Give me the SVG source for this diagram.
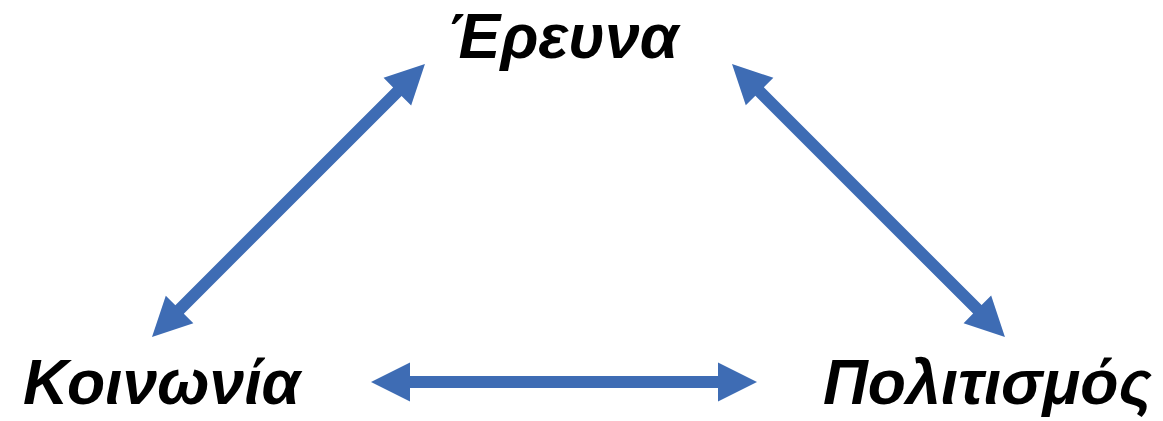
<svg xmlns="http://www.w3.org/2000/svg" xmlns:xlink="http://www.w3.org/1999/xlink" width="1163" height="421" viewBox="0 0 1163 421">
  <style>
    .lbl { font-family: "Liberation Sans", Arial, sans-serif; font-weight: bold; font-style: italic; font-size: 62.5px; fill: #000000; }
    .arr { fill: #3E6CB4; }
  </style>
  <defs>
    <path id="dblArrow" class="arr" d="M0,0 L39,-19.5 L39,-6 L347,-6 L347,-19.5 L386,0 L347,19.5 L347,6 L39,6 L39,19.5 Z"/>
  </defs>
  <rect width="1163" height="421" fill="#ffffff"/>
  <g id="connectors">
    <use xlink:href="#dblArrow" href="#dblArrow" transform="translate(371,382)"/>
    <use xlink:href="#dblArrow" href="#dblArrow" transform="translate(152,337) rotate(-45)"/>
    <use xlink:href="#dblArrow" href="#dblArrow" transform="translate(732,64) rotate(45)"/>
  </g>
  <g id="node-erevna">
    <text class="lbl" x="447" y="58">Έρευνα</text>
  </g>
  <g id="node-koinonia">
    <text class="lbl" x="23" y="404">Κοινωνία</text>
  </g>
  <g id="node-politismos">
    <text class="lbl" x="823" y="404">Πολιτισμός</text>
  </g>
</svg>
